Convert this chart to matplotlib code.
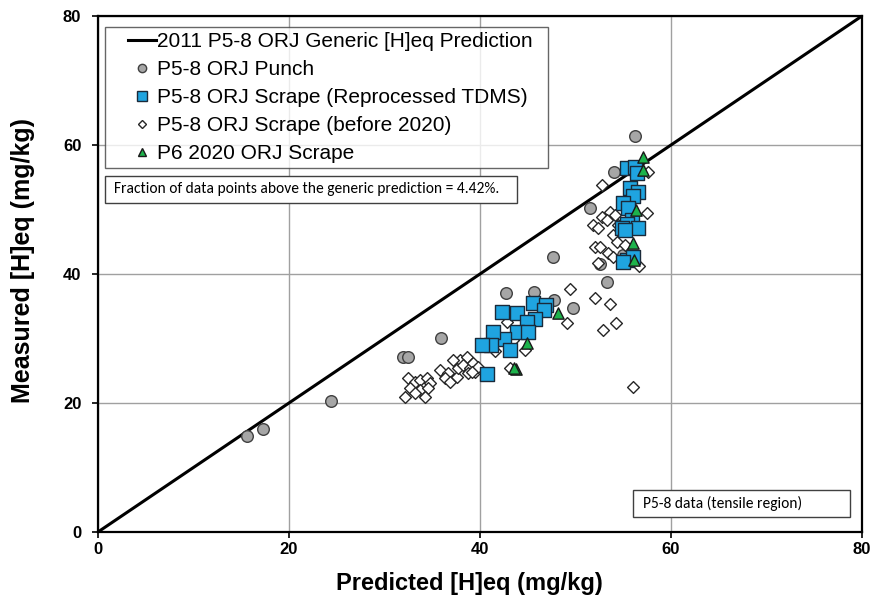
import matplotlib
matplotlib.use("Agg")
import matplotlib.pyplot as plt
from matplotlib.patches import Rectangle
from matplotlib.lines import Line2D
from matplotlib.legend_handler import HandlerLine2D
import numpy as np

plt.rcParams['font.family'] = ['Liberation Sans', 'DejaVu Sans']

# Generic prediction line (measured = predicted)
pred_line = [0, 80]

# P5-8 ORJ Punch
punch_x = [15.6, 17.3, 24.4, 31.9, 32.5, 35.9, 42.7, 45.7, 47.7, 49.7, 47.6,
           53.3, 52.6, 51.5, 54.0, 56.2, 55.0, 56.0]
punch_y = [14.9, 16.0, 20.3, 27.1, 27.1, 30.0, 37.1, 37.2, 36.0, 34.7, 42.7,
           38.7, 41.6, 50.3, 55.8, 61.4, 43.0, 47.0]

# P5-8 ORJ Scrape (before 2020)
old_x = [32.5, 33.2, 33.7, 34.4, 34.8, 32.7, 33.7, 34.6, 32.1, 33.2, 34.2,
         35.8, 36.6, 36.3, 36.9, 37.6, 37.7, 37.9, 38.6, 38.2, 39.0, 38.7,
         39.5, 39.3, 37.2, 39.8, 39.2, 41.6, 42.8, 43.5, 44.7, 43.1,
         49.4, 49.1, 52.0, 53.6, 54.2, 52.9, 56.0,
         52.8, 57.6, 53.6, 52.8, 51.8, 52.4, 53.3, 54.1, 54.5, 57.5, 53.9,
         54.3, 52.0, 52.6, 53.4, 53.9, 52.4, 55.2, 56.6]
old_y = [23.9, 23.3, 23.6, 23.9, 23.1, 22.3, 22.0, 22.3, 20.9, 21.5, 20.9,
         25.1, 24.6, 23.9, 23.3, 24.0, 25.4, 26.7, 27.1, 25.9, 25.4, 24.6,
         24.8, 26.2, 26.7, 25.6, 24.8, 28.1, 32.6, 29.8, 28.2, 25.4,
         37.7, 32.4, 36.2, 35.3, 32.4, 31.3, 22.5,
         53.8, 55.8, 49.6, 48.8, 47.6, 47.1, 48.4, 49.1, 47.6, 49.5, 46.0,
         45.0, 44.2, 44.2, 43.2, 42.6, 41.7, 44.5, 41.2]

# P5-8 ORJ Scrape (Reprocessed TDMS)
tdms_x = [42.3, 43.9, 45.5, 46.9, 46.7, 45.8, 44.9, 43.9, 45.0, 42.5, 41.4,
          41.2, 40.2, 43.1, 40.7,
          55.4, 56.2, 56.4, 55.7, 56.5, 56.0, 55.0, 55.5, 55.9, 55.4, 56.5,
          54.9, 55.2, 55.4, 56.0, 55.0]
tdms_y = [34.1, 34.0, 35.5, 35.2, 34.4, 33.0, 32.6, 31.0, 31.0, 29.9, 31.0,
          29.0, 29.0, 28.2, 24.5,
          56.4, 56.6, 55.6, 53.3, 52.7, 52.1, 51.0, 50.2, 48.4, 47.8, 47.1,
          47.1, 46.8, 42.2, 42.6, 41.9]

# P6 2020 ORJ Scrape
p6_x = [57.1, 57.1, 56.3, 56.0, 56.1, 48.2, 44.9, 43.8, 43.6]
p6_y = [58.1, 56.1, 49.9, 44.8, 42.2, 34.0, 29.3, 25.3, 25.4]

series_labels = ['2011 P5-8 ORJ Generic [H]eq Prediction',
                 'P5-8 ORJ Punch',
                 'P5-8 ORJ Scrape (Reprocessed TDMS)',
                 'P5-8 ORJ Scrape (before 2020)',
                 'P6 2020 ORJ Scrape']
fraction_text = "Fraction of data points above the generic prediction = 4.42%."
region_text = "P5-8 data (tensile region)"

fig = plt.figure(figsize=(8.78, 6.05), dpi=100)
ax = fig.add_axes([0.1116, 0.1207, 0.8702, 0.8529])

ax.plot(pred_line, pred_line, color='black', lw=2.2, zorder=3)
ax.scatter(punch_x, punch_y, s=70, marker='o', facecolor='#a6a6a6',
           edgecolor='#404040', linewidth=1.0, zorder=4)
ax.scatter(old_x, old_y, s=36, marker='D', facecolor='white',
           edgecolor='#262626', linewidth=1.0, zorder=4)
ax.scatter(tdms_x, tdms_y, s=90, marker='s', facecolor='#1fa4e0',
           edgecolor='#1a2a3a', linewidth=1.0, zorder=5)
ax.scatter(p6_x, p6_y, s=66, marker='^', facecolor='#1db34b',
           edgecolor='#1a1a1a', linewidth=1.0, zorder=6)

ax.set_xlim(0, 80)
ax.set_ylim(0, 80)
ax.set_xticks(np.arange(0, 81, 20))
ax.set_yticks(np.arange(0, 81, 20))
ax.grid(True, color='#a0a0a0', lw=1.0)
ax.set_axisbelow(True)
for sp in ax.spines.values():
    sp.set_linewidth(1.6)
    sp.set_color('black')
ax.tick_params(axis='both', labelsize=12, length=4, width=1.2, direction='out')
ax.tick_params(axis='y', pad=8)
for lab in ax.get_xticklabels() + ax.get_yticklabels():
    lab.set_fontweight('bold')

ax.set_xlabel('Predicted [H]eq (mg/kg)', fontsize=17, fontweight='bold')
ax.set_ylabel('Measured [H]eq (mg/kg)', fontsize=18, fontweight='bold')
ax.xaxis.set_label_coords(0.486, -0.078)
ax.yaxis.set_label_coords(-0.082, 0.527)

# legend proxies
proxies = [
    Line2D([], [], color='black', lw=2.2),
    Line2D([], [], ls='none', marker='o', ms=6, mfc='#a6a6a6', mec='#404040', mew=1.0),
    Line2D([], [], ls='none', marker='s', ms=6.5, mfc='#1fa4e0', mec='#1a2a3a', mew=1.0),
    Line2D([], [], ls='none', marker='D', ms=4.5, mfc='white', mec='#262626', mew=1.0),
    Line2D([], [], ls='none', marker='^', ms=6, mfc='#1db34b', mec='#1a1a1a', mew=1.0),
]
indent = HandlerLine2D(xpad=0.87)
leg = ax.legend(proxies, series_labels,
                loc='upper left', bbox_to_anchor=(0.009, 0.879, 0.58, 0.1),
                mode='expand', fontsize=15,
                frameon=True, fancybox=False, edgecolor='#404040',
                handlelength=2.21, handletextpad=0.05, borderpad=0.25,
                labelspacing=0.43, borderaxespad=0.0,
                handler_map={Line2D: indent})
leg.get_frame().set_linewidth(1.0)

# annotation boxes
note_font = ['Carlito', 'Liberation Sans', 'DejaVu Sans']
ax.add_patch(Rectangle((0.009, 0.638), 0.539, 0.052, transform=ax.transAxes,
                       facecolor='white', edgecolor='#404040', lw=1.0, zorder=7))
ax.text(0.021, 0.664, fraction_text, transform=ax.transAxes, fontsize=11.2,
        family=note_font, va='center', ha='left', zorder=8)
ax.add_patch(Rectangle((0.700, 0.029), 0.284, 0.052, transform=ax.transAxes,
                       facecolor='white', edgecolor='#404040', lw=1.0, zorder=7))
ax.text(0.713, 0.055, region_text, transform=ax.transAxes, fontsize=11.2,
        family=note_font, va='center', ha='left', zorder=8)

fig.savefig('out.png', dpi=100)
